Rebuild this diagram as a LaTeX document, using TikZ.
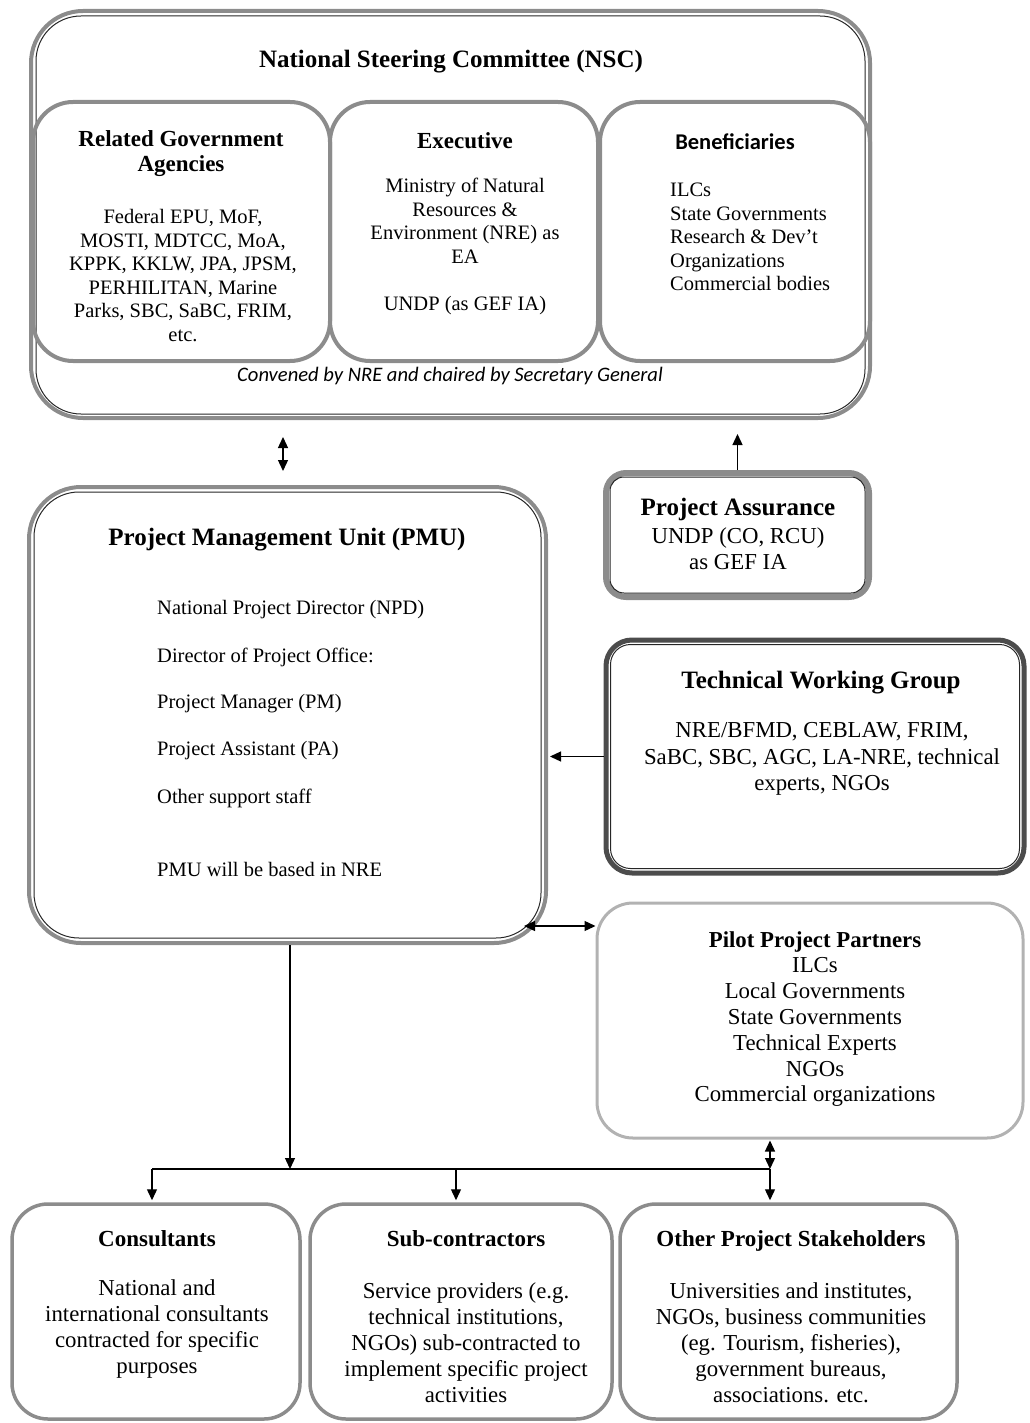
\documentclass[tikz,border=0pt]{standalone}
\usepackage{fontspec}
\setmainfont{Liberation Serif}
\newfontfamily\calfont{Carlito}
\usetikzlibrary{arrows.meta}
\tikzset{
  band/.style={rectangle, draw=black!45, line width=4pt, inner sep=0pt},
  lightband/.style={rectangle, draw=black!30, line width=3pt, inner sep=0pt},
  darkband/.style={rectangle, draw=black!70, line width=5pt, inner sep=0pt},
  innerline/.style={draw=black!85, line width=1pt},
  conn/.style={draw=black, line width=1.3pt},
  tip/.style={-{Triangle[length=11pt,width=10pt]}},
  tips/.style={{Triangle[length=11pt,width=10pt]}-{Triangle[length=11pt,width=10pt]}},
  ttl/.style={font=\bfseries\fontsize{23}{25}\selectfont, align=center, inner sep=0pt},
  big/.style={font=\bfseries\fontsize{25}{28}\selectfont, align=center, inner sep=0pt},
  body/.style={font=\fontsize{20.5}{23.5}\selectfont, align=center, inner sep=0pt},
  bodyl/.style={font=\fontsize{20.5}{23.5}\selectfont, align=left, inner sep=0pt, anchor=west},
  bodyb/.style={font=\fontsize{22.8}{26}\selectfont, align=center, inner sep=0pt},
}
\begin{document}
\begin{tikzpicture}[x=1pt,y=-1pt]
\useasboundingbox (0,0) rectangle (1029,1423);

% ---------- NSC ----------
\node[band, rounded corners=52pt, minimum width=839pt, minimum height=407pt] (nsc) at (450.5,214.5) {};
\draw[innerline, rounded corners=45pt] ([xshift=7pt,yshift=-7pt]nsc.north west) rectangle ([xshift=-7pt,yshift=6pt]nsc.south east);
\node[band, rounded corners=40pt, minimum width=297pt, minimum height=259pt] (rga) at (181.5,231.5) {};
\node[band, rounded corners=40pt, minimum width=268pt, minimum height=259pt] (exe) at (464,231.5) {};
\node[band, rounded corners=40pt, minimum width=270pt, minimum height=259pt] (ben) at (735,231.5) {};

\node[big] (nsct) at (451,62) {National Steering Committee (NSC)};
\node[ttl] (rgat) at (181,153.5) {Related Government\\Agencies};
\node[body] (rgab) at (183,275.5) {Federal EPU, MoF,\\MOSTI, MDTCC, MoA,\\KPPK, KKLW, JPA, JPSM,\\PERHILITAN, Marine\\Parks, SBC, SaBC, FRIM,\\etc.};
\node[ttl] (exet) at (465,141) {Executive};
\node[body] (exeb) at (465,246.5) {Ministry of Natural\\Resources \&\\Environment (NRE) as\\EA\\[23.5pt]UNDP (as GEF IA)};
\node[inner sep=0pt, font=\calfont\bfseries\fontsize{22.5}{25}\selectfont] (bent) at (735,142) {Beneficiaries};
\node[bodyl] (benb) at (670,237) {ILCs\\State Governments\\Research \& Dev't\\Organizations\\Commercial bodies};
\node[inner sep=0pt, font=\calfont\itshape\fontsize{20.6}{24}\selectfont] (conv) at (450,376) {Convened by NRE and chaired by Secretary General};

% ---------- PMU ----------
\node[band, rounded corners=52pt, minimum width=517pt, minimum height=456pt] (pmu) at (287.5,715) {};
\draw[innerline, rounded corners=45pt] ([xshift=7pt,yshift=-7pt]pmu.north west) rectangle ([xshift=-7pt,yshift=7pt]pmu.south east);
\node[big] (pmut) at (287,540) {Project Management Unit (PMU)};
\node[bodyl] (p1) at (157,610) {National Project Director (NPD)};
\node[bodyl] (p2) at (157,657) {Director of Project Office:};
\node[bodyl] (p3) at (157,704) {Project Manager (PM)};
\node[bodyl] (p4) at (157,751) {Project Assistant (PA)};
\node[bodyl] (p5) at (157,798) {Other support staff};
\node[bodyl] (p6) at (157,869) {PMU will be based in NRE};

% ---------- Project Assurance ----------
\node[band, line width=6pt, rounded corners=20pt, minimum width=263pt, minimum height=124pt] (pa) at (737.5,535) {};
\draw[innerline, rounded corners=14pt] ([xshift=7pt,yshift=-7pt]pa.north west) rectangle ([xshift=-7pt,yshift=7pt]pa.south east);
\node[big] (pat) at (738,509) {Project Assurance};
\node[bodyb] (pab) at (738,549) {UNDP (CO, RCU)\\as GEF IA};

% ---------- TWG ----------
\node[darkband, rounded corners=26pt, minimum width=418pt, minimum height=233pt] (twg) at (815,756.5) {};
\draw[innerline, rounded corners=20pt] ([xshift=7pt,yshift=-7pt]twg.north west) rectangle ([xshift=-7pt,yshift=7pt]twg.south east);
\node[big] (twgt) at (821,683) {Technical Working Group};
\node[bodyb, font=\fontsize{22.8}{26.5}\selectfont] (twgb) at (822,759) {NRE/BFMD, CEBLAW, FRIM,\\SaBC, SBC, AGC, LA-NRE, technical\\experts, NGOs};

% ---------- Pilot ----------
\node[lightband, rounded corners=36pt, minimum width=426pt, minimum height=235pt] (pilot) at (810,1020.5) {};
\node[bodyb, font=\fontsize{22.8}{25.8}\selectfont] (pilott) at (815,1019) {\textbf{Pilot Project Partners}\\ILCs\\Local Governments\\State Governments\\Technical Experts\\NGOs\\Commercial organizations};

% ---------- Bottom ----------
\node[band, line width=3.5pt, rounded corners=36pt, minimum width=288pt, minimum height=215pt] (cons) at (156,1311.5) {};
\node[band, line width=3.5pt, rounded corners=36pt, minimum width=302pt, minimum height=215pt] (sub) at (461,1311.5) {};
\node[band, line width=3.5pt, rounded corners=36pt, minimum width=337pt, minimum height=215pt] (oth) at (788.5,1311.5) {};
\node[ttl] (const) at (157,1239) {Consultants};
\node[bodyb] (consb) at (157,1329.5) {National and\\international consultants\\contracted for specific\\purposes};
\node[ttl] (subt) at (466,1239) {Sub-contractors};
\node[bodyb] (subb) at (466,1342.5) {Service providers (e.g.\\technical institutions,\\NGOs) sub-contracted to\\implement specific project\\activities};
\node[ttl] (otht) at (791,1241) {Other Project Stakeholders};
\node[bodyb] (othb) at (791,1342.5) {Universities and institutes,\\NGOs, business communities\\(eg. Tourism, fisheries),\\government bureaus,\\associations. etc.};

% ---------- Connectors ----------
\coordinate (nscpmu) at (283,437);
\draw[conn, tips] (nscpmu) -- (nscpmu |- pmu.north) [shorten >=14pt];
\draw[conn, tip, shorten >=14pt] (pa.north) -- (pa.north |- nsc.south);
\draw[conn, tip, shorten >=2pt] (twg.west) -- (twg.west -| pmu.east);
\coordinate (pmucorner) at (524,926);
\draw[conn, tips] (pmucorner) -- (pmucorner -| pilot.west);
\coordinate (split) at (290,1169);
\coordinate (jn) at (770,1169);
\draw[conn, tip] (split |- pmu.south) -- (split);
\draw[conn] (152,1169) coordinate (lc) -- (jn);
\draw[conn, tip, shorten >=2pt] (lc) -- (lc |- cons.north);
\draw[conn, tip, shorten >=2pt] (456,1169) coordinate (mc) -- (mc |- sub.north);
\draw[conn, tip, shorten >=2pt] (jn) -- (jn |- oth.north);
\draw[conn, tips, shorten <=1pt] (jn |- pilot.south) -- (jn);
\end{tikzpicture}
\end{document}
